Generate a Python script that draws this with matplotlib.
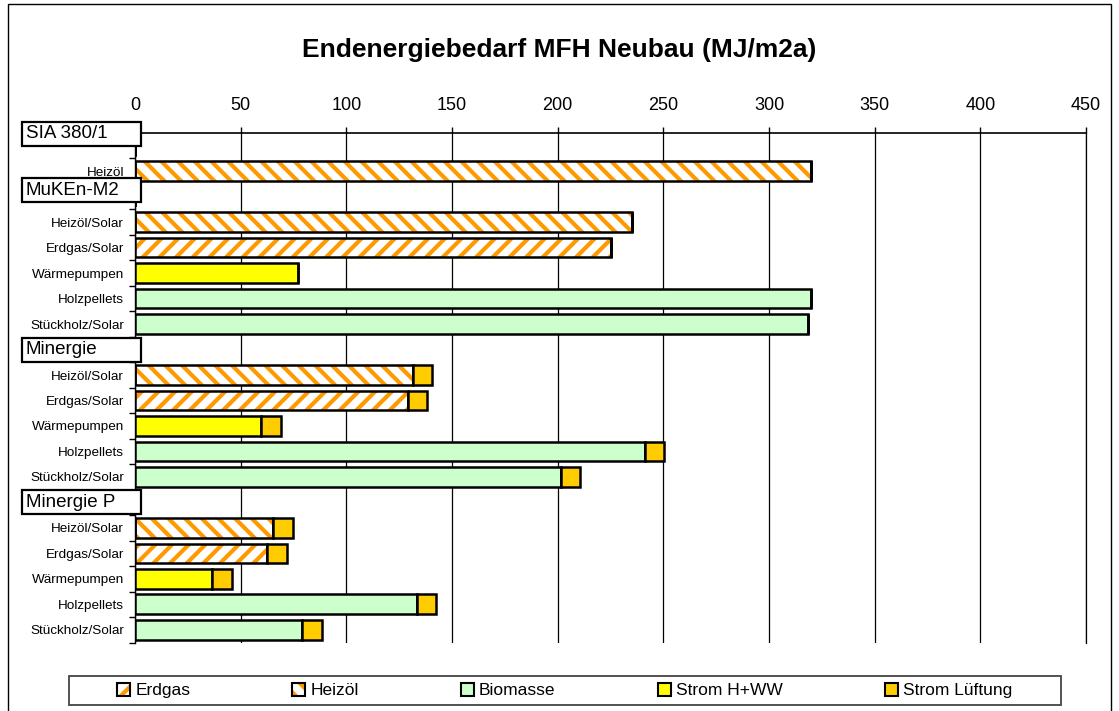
import matplotlib
matplotlib.use("Agg")
import matplotlib.pyplot as plt
import matplotlib.transforms as mtransforms
from matplotlib.patches import Patch, Rectangle
from matplotlib.legend_handler import HandlerTuple
import numpy as np

plt.rcParams['font.family'] = ['Liberation Sans', 'DejaVu Sans']
plt.rcParams['hatch.linewidth'] = 3.0

# rows from top to bottom, "" = group header row
row_labels = ["", "Heizöl",
              "", "Heizöl/Solar", "Erdgas/Solar", "Wärmepumpen", "Holzpellets", "Stückholz/Solar",
              "", "Heizöl/Solar", "Erdgas/Solar", "Wärmepumpen", "Holzpellets", "Stückholz/Solar",
              "", "Heizöl/Solar", "Erdgas/Solar", "Wärmepumpen", "Holzpellets", "Stückholz/Solar"]
erdgas = [0, 0, 0, 0, 225, 0, 0, 0, 0, 0, 129, 0, 0, 0, 0, 0, 62.5, 0, 0, 0]
heizoel = [0, 320, 0, 235, 0, 0, 0, 0, 0, 131.5, 0, 0, 0, 0, 0, 65.5, 0, 0, 0, 0]
biomasse = [0, 0, 0, 0, 0, 0, 320, 318.5, 0, 0, 0, 0, 241.3, 201.6, 0, 0, 0, 0, 133.6, 79]
strom_hww = [0, 0, 0, 0, 0, 77, 0, 0, 0, 0, 0, 59.5, 0, 0, 0, 0, 0, 36.6, 0, 0]
strom_lueftung = [0, 0, 0, 0, 0, 0, 0, 0, 0, 9.2, 9.0, 9.5, 9.1, 9.0, 0, 9.5, 9.3, 9.2, 9.0, 9.4]

groups = ["SIA 380/1", "MuKEn-M2", "Minergie", "Minergie P"]
group_pos = [-0.47, 1.75, 8.0, 14.0]

series = [("Erdgas", erdgas), ("Heizöl", heizoel), ("Biomasse", biomasse),
          ("Strom H+WW", strom_hww), ("Strom Lüftung", strom_lueftung)]
styles = {"Erdgas": dict(color="white", hatch="//"),
          "Heizöl": dict(color="white", hatch="\\\\"),
          "Biomasse": dict(color="#CCFFCC", hatch=None),
          "Strom H+WW": dict(color="#FFFF00", hatch=None),
          "Strom Lüftung": dict(color="#FFCC00", hatch=None)}
orange = "#FF9900"

fig = plt.figure(figsize=(11.19, 7.11), dpi=100)
ax = fig.add_axes([135 / 1119, 1 - 642.5 / 711, 951 / 1119, 509.5 / 711])

y = np.arange(len(row_labels))
left = np.zeros(len(row_labels))
handles = []
for name, vals in series:
    vals = np.array(vals, dtype=float)
    st = styles[name]
    if st["hatch"]:
        ax.barh(y, vals, left=left, height=0.77, color="white", edgecolor=orange,
                hatch=st["hatch"], linewidth=0, zorder=3)
        ax.barh(y, vals, left=left, height=0.77, fill=False, edgecolor="black",
                linewidth=1.8, zorder=4)
        h = (Patch(facecolor="white", edgecolor=orange, hatch=st["hatch"], linewidth=0),
             Patch(fill=False, edgecolor="black", linewidth=1.5))
    else:
        ax.barh(y, vals, left=left, height=0.77, color=st["color"], edgecolor="black",
                linewidth=1.8, zorder=4)
        h = Patch(facecolor=st["color"], edgecolor="black", linewidth=1.5)
    handles.append(h)
    left += vals

ax.set_ylim(len(row_labels) - 0.5, -0.5)
ax.set_xlim(0, 450)
ax.set_xticks(np.arange(0, 451, 50))
ax.xaxis.tick_top()
ax.tick_params(axis="x", direction="out", length=4, width=1, pad=10, labelsize=13)
ax.grid(axis="x", color="black", linewidth=0.9, zorder=0)

ax.set_yticks(y)
ax.set_yticklabels(row_labels, fontsize=9.7)
ax.tick_params(axis="y", which="major", length=0, pad=8)
ax.set_yticks(np.arange(-0.5, len(row_labels), 1), minor=True)
ax.tick_params(axis="y", which="minor", length=4, width=1, direction="out")

ax.spines["bottom"].set_visible(False)
ax.spines["right"].set_linewidth(0.9)
ax.spines["top"].set_linewidth(1.2)
ax.spines["left"].set_linewidth(1.0)

# group header boxes
trans = mtransforms.blended_transform_factory(ax.transAxes, ax.transData)
for g, p in zip(groups, group_pos):
    ax.add_patch(Rectangle((-0.1188, p - 0.47), 0.1251, 0.94, transform=trans,
                           facecolor="white", edgecolor="black", linewidth=1.6,
                           clip_on=False, zorder=6))
    ax.text(-0.1150, p, g, transform=trans, fontsize=13.5, va="center", ha="left",
            zorder=7, clip_on=False)

fig.text(0.5, 1 - 50 / 711, "Endenergiebedarf MFH Neubau (MJ/m2a)",
         ha="center", va="center", fontsize=19, fontweight="bold")

# legend frame, entries spread inside it
fig.add_artist(Rectangle((69 / 1119, 6 / 711), 992 / 1119, 29 / 711, transform=fig.transFigure,
                         facecolor="white", edgecolor="#444444", linewidth=1.3))
leg = fig.legend(handles, [n for n, _ in series], handler_map={tuple: HandlerTuple(ndivide=1)},
                 loc="center left", bbox_to_anchor=(117 / 1119, 6 / 711, 895 / 1119, 29 / 711),
                 ncol=5, mode="expand", fontsize=12.5, frameon=False,
                 handlelength=0.75, handleheight=0.75, handletextpad=0.3,
                 borderaxespad=0, borderpad=0)

# outer chart border
fig.add_artist(Rectangle((8 / 1119, -0.01), 1103 / 1119, 1.005, transform=fig.transFigure,
                         fill=False, edgecolor="black", linewidth=1.0))

fig.savefig("out.png", dpi=100)
